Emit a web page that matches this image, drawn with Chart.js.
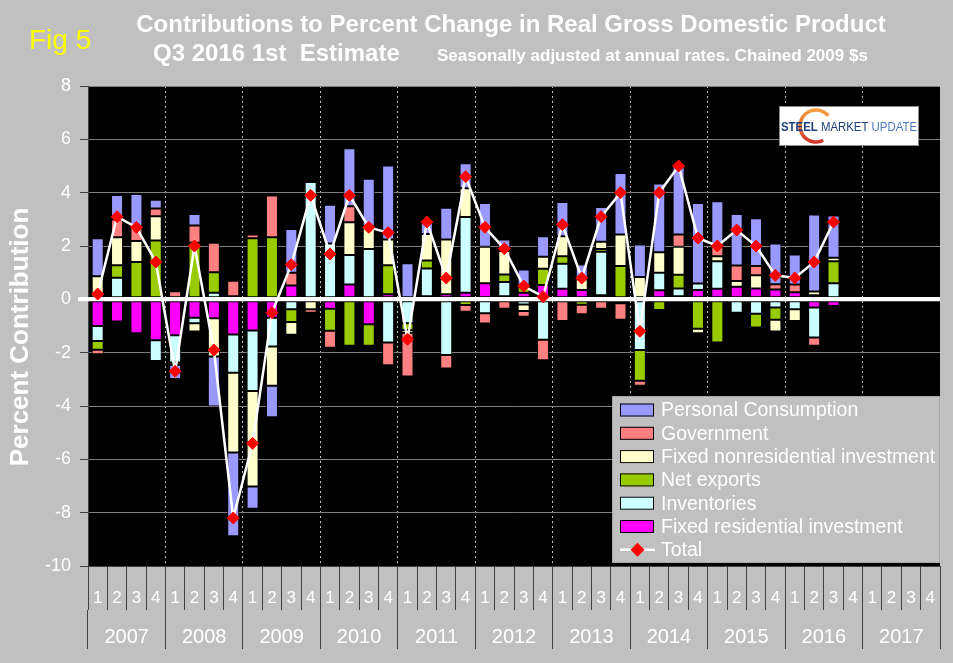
<!DOCTYPE html>
<html>
<head>
<meta charset="utf-8">
<title>Contributions to Percent Change in Real GDP</title>
<script src="https://cdn.jsdelivr.net/npm/chart.js@4.4.1/dist/chart.umd.min.js"></script>
<style>
  html, body { margin: 0; padding: 0; background: #c0c0c0; }
  #gdpChart { display: block; background: #c0c0c0; }
</style>
</head>
<body>
<canvas id="gdpChart" width="953" height="663"></canvas>
<script>
// ---- data ----
const quarters = [
  '1', '2', '3', '4', '1', '2', '3', '4', '1', '2', '3', '4',
  '1', '2', '3', '4', '1', '2', '3', '4', '1', '2', '3', '4',
  '1', '2', '3', '4', '1', '2', '3', '4', '1', '2', '3', '4',
  '1', '2', '3', '4', '1', '2', '3', '4'
];
const years = ['2007', '2008', '2009', '2010', '2011', '2012', '2013', '2014', '2015', '2016', '2017'];
const yTicks = [8, 6, 4, 2, 0, -2, -4, -6, -8, -10];

const personalConsumption = [1.42, 0.92, 1.21, 0.32, -0.54, 0.43, -1.88, -3.14, -0.83, -1.18, 1.64, 0, 1.46, 2.18, 1.78, 2.78, 1.35, 0.54, 1.19, 0.93, 1.64, 0.43, 0.65, 0.77, 1.28, 0.56, 1.30, 2.31, 1.22, 2.57, 2.62, 3.02, 1.72, 1.93, 1.79, 1.52, 1.12, 2.89, 1.58];
const government = [-0.17, 0.66, 0.55, 0.29, 0.30, 0.65, 1.10, 0.58, 0.14, 1.56, 0.48, -0.13, -0.64, 0.60, 0, -0.85, -1.64, -0.10, -0.50, -0.26, -0.39, -0.35, -0.21, -0.76, -0.81, -0.36, -0.35, -0.62, -0.19, 0, 0.46, 0, 0.34, 0.58, 0.35, 0.20, 0.29, -0.31, 0];
const fixedNonresidential = [0.87, 1.05, 0.79, 0.91, 0, -0.31, -1.43, -2.99, -3.58, -1.47, -0.48, -0.37, 0, 1.23, 0.85, 0.96, -0.10, 0.99, 2.05, 1.08, 1.37, 0.88, -0.25, 0.45, 0.75, 0.40, 0.27, 1.18, 0.84, 0.77, 1.05, -0.17, 0.19, 0.22, 0.49, -0.44, -0.44, 0.14, 0.13];
const netExports = [-0.33, 0.47, 1.40, 2.21, -0.08, 2.12, 0.77, 0.12, 2.29, 2.33, -0.48, 0, -0.83, -1.74, -0.81, 1.09, -0.25, 0.30, 0, -0.21, 0, 0.28, 0.22, 0.61, 0.29, -0.20, 0.11, 1.25, -1.15, -0.40, 0.51, -1.10, -1.62, -0.07, -0.52, -0.46, 0, 0.15, 0.83];
const inventories = [-0.56, 0.81, 0, -0.78, -1.02, -0.21, 0.25, -1.43, -2.27, -1.08, -0.37, 4.40, 2.09, 1.10, 1.89, -1.62, -0.90, 1.04, -2.09, 2.84, -0.52, 0.53, -0.19, -1.52, 0.93, 0, 1.63, 0, -1.90, 0.66, 0.29, 0.24, 1.03, -0.50, -0.54, -0.31, -0.37, -1.12, 0.60];
const fixedResidential = [-1.00, -0.83, -1.27, -1.53, -1.35, -0.69, -0.71, -1.32, -1.17, -0.69, 0.52, 0, -0.35, 0.56, -0.93, 0.19, 0, 0.12, 0.19, 0.25, 0.60, 0.12, 0.25, 0.54, 0.40, 0.35, 0.15, -0.15, 0, 0.34, 0.12, 0.35, 0.40, 0.47, 0.41, 0.37, 0.27, -0.31, -0.25];
const totalGdp = [0.2, 3.1, 2.7, 1.4, -2.7, 2.0, -1.9, -8.2, -5.4, -0.5, 1.3, 3.9, 1.7, 3.9, 2.7, 2.5, -1.5, 2.9, 0.8, 4.6, 2.7, 1.9, 0.5, 0.1, 2.8, 0.8, 3.1, 4.0, -1.2, 4.0, 5.0, 2.3, 2.0, 2.6, 2.0, 0.9, 0.8, 1.4, 2.9];

const chartTitle = 'Contributions to Percent Change in Real Gross Domestic Product';
const subTitle = 'Q3 2016 1st  Estimate';
const unitNote = 'Seasonally adjusted at annual rates. Chained 2009 $s';
const figLabel = 'Fig 5';
const yTitle = 'Percent Contribution';

const FONT = '"Liberation Sans", Arial, sans-serif';
Chart.defaults.font.family = FONT;
Chart.defaults.color = '#ffffff';

// ---- plugins ----
const plotBackground = {
  id: 'plotBackground',
  beforeDraw(chart) {
    const { ctx, chartArea: a } = chart;
    ctx.save();
    ctx.fillStyle = '#c0c0c0';
    ctx.fillRect(0, 0, chart.width, chart.height);
    ctx.fillStyle = '#000000';
    ctx.fillRect(a.left, a.top, a.right - a.left, a.bottom - a.top);
    ctx.restore();
  }
};

// zero axis line sits over the bars but under the total line
const zeroLine = {
  id: 'zeroLine',
  beforeDatasetDraw(chart, args) {
    if (args.meta.type !== 'line') return;
    const { ctx, chartArea: a } = chart;
    const y0 = chart.scales.y.getPixelForValue(0);
    ctx.save();
    ctx.strokeStyle = '#ffffff';
    ctx.lineWidth = 4;
    ctx.beginPath();
    ctx.moveTo(a.left - 10, y0);
    ctx.lineTo(a.right, y0);
    ctx.stroke();
    ctx.restore();
  }
};

const headerText = {
  id: 'headerText',
  afterDraw(chart) {
    const ctx = chart.ctx;
    ctx.save();
    ctx.textBaseline = 'alphabetic';
    ctx.fillStyle = '#ffffff';
    ctx.textAlign = 'center';
    ctx.font = 'bold 24px ' + FONT;
    ctx.fillText(chartTitle, 511, 32);
    ctx.textAlign = 'left';
    ctx.font = 'bold 24px ' + FONT;
    ctx.fillText(subTitle, 153, 61);
    ctx.font = 'bold 17px ' + FONT;
    ctx.fillText(unitNote, 437, 61);
    ctx.fillStyle = '#ffff00';
    ctx.font = '28px ' + FONT;
    ctx.fillText(figLabel, 29, 49);
    // rotated y axis title
    ctx.fillStyle = '#ffffff';
    ctx.font = 'bold 26px ' + FONT;
    ctx.translate(28, 337);
    ctx.rotate(-Math.PI / 2);
    ctx.textAlign = 'center';
    ctx.fillText(yTitle, 0, 0);
    ctx.restore();
  }
};

const logoBox = {
  id: 'logoBox',
  afterDraw(chart) {
    const ctx = chart.ctx;
    const x = 779, y = 106, w = 140, h = 40;
    ctx.save();
    ctx.fillStyle = '#ffffff';
    ctx.fillRect(x, y, w, h);
    ctx.strokeStyle = '#8c8c8c';
    ctx.lineWidth = 1;
    ctx.strokeRect(x + 0.5, y + 0.5, w - 1, h - 1);
    const grad = ctx.createLinearGradient(0, y + 2, 0, y + h - 2);
    grad.addColorStop(0, '#f7a541');
    grad.addColorStop(1, '#d2302a');
    ctx.strokeStyle = grad;
    ctx.lineWidth = 3.5;
    ctx.beginPath();
    ctx.arc(x + 37, y + 20, 16, -0.7, 1.1, true);
    ctx.stroke();
    const parts = [
      ['STEEL ', 'bold 12px ' + FONT, '#1d3f7a'],
      ['MARKET ', '12px ' + FONT, '#1d3f7a'],
      ['UPDATE', '12px ' + FONT, '#4d7cc0']
    ];
    let total = 0;
    parts.forEach(p => { ctx.font = p[1]; total += ctx.measureText(p[0]).width; });
    ctx.translate(x + 2, y + 25);
    ctx.scale(136 / total, 1);
    let tx = 0;
    ctx.textBaseline = 'alphabetic';
    parts.forEach(p => {
      ctx.font = p[1];
      ctx.fillStyle = p[2];
      ctx.fillText(p[0], tx, 0);
      tx += ctx.measureText(p[0]).width;
    });
    ctx.restore();
  }
};

const legendBox = {
  id: 'legendBox',
  afterDraw(chart) {
    const { ctx, chartArea: a } = chart;
    const w = 328, h = 167;
    const left = a.right - w, top = a.bottom - 170;
    ctx.save();
    ctx.fillStyle = '#c0c0c0';
    ctx.fillRect(left, top, w, h);
    ctx.strokeStyle = '#a8a8a8';
    ctx.lineWidth = 1;
    ctx.strokeRect(left + 0.5, top + 0.5, w - 1, h - 1);
    const order = [5, 4, 3, 2, 1, 0, 6];
    ctx.font = '19.5px ' + FONT;
    ctx.textBaseline = 'middle';
    ctx.textAlign = 'left';
    order.forEach((di, row) => {
      const ds = chart.data.datasets[di];
      const cy = top + 14 + row * 23.3;
      if (ds.type === 'line') {
        ctx.strokeStyle = '#ffffff';
        ctx.lineWidth = 2.5;
        ctx.beginPath();
        ctx.moveTo(left + 8, cy);
        ctx.lineTo(left + 43, cy);
        ctx.stroke();
        ctx.fillStyle = '#ff0000';
        ctx.beginPath();
        ctx.moveTo(left + 25.5, cy - 7);
        ctx.lineTo(left + 32.5, cy);
        ctx.lineTo(left + 25.5, cy + 7);
        ctx.lineTo(left + 18.5, cy);
        ctx.closePath();
        ctx.fill();
      } else {
        ctx.fillStyle = ds.backgroundColor;
        ctx.fillRect(left + 8, cy - 6.5, 34, 13);
        ctx.strokeStyle = '#000000';
        ctx.strokeRect(left + 8.5, cy - 6, 33, 12);
      }
      ctx.fillStyle = '#ffffff';
      ctx.fillText(ds.label, left + 49, cy + 1);
    });
    ctx.restore();
  }
};

function barSet(label, data, color) {
  return {
    type: 'bar',
    label: label,
    data: data,
    backgroundColor: color,
    borderColor: '#000000',
    borderWidth: 1,
    borderSkipped: false,
    categoryPercentage: 1.0,
    barPercentage: 0.62,
    order: 1
  };
}

const gdpCtx = document.getElementById('gdpChart').getContext('2d');
const gdpChart = new Chart(gdpCtx, {
  data: {
    labels: quarters,
    datasets: [
      barSet('Fixed residential investment', fixedResidential, '#ff00ff'),
      barSet('Inventories', inventories, '#ccffff'),
      barSet('Net exports', netExports, '#99cc00'),
      barSet('Fixed nonresidential investment', fixedNonresidential, '#ffffcc'),
      barSet('Government', government, '#ff8080'),
      barSet('Personal Consumption', personalConsumption, '#9999ff'),
      {
        type: 'line',
        label: 'Total',
        data: totalGdp,
        borderColor: '#ffffff',
        borderWidth: 2.5,
        pointStyle: 'rectRot',
        pointRadius: 6,
        pointBackgroundColor: '#ff0000',
        pointBorderColor: '#ff0000',
        pointBorderWidth: 1,
        tension: 0,
        order: 0
      }
    ]
  },
  options: {
    responsive: false,
    animation: false,
    events: [],
    layout: { padding: { top: 86, right: 13, left: 0, bottom: 0 } },
    plugins: {
      legend: { display: false },
      tooltip: { enabled: false }
    },
    scales: {
      x: {
        type: 'category',
        stacked: true,
        offset: true,
        position: 'bottom',
        weight: 0,
        afterFit(scale) { scale.height = 44; },
        grid: {
          offset: true,
          drawOnChartArea: false,
          drawTicks: true,
          tickLength: 44,
          color: '#404040',
          tickColor: '#404040'
        },
        border: { display: true, color: '#404040' },
        ticks: {
          color: '#ffffff',
          font: { size: 17 },
          padding: -22,
          autoSkip: false,
          maxRotation: 0
        }
      },
      years: {
        type: 'category',
        labels: years,
        offset: true,
        position: 'bottom',
        weight: 1,
        afterFit(scale) { scale.height = 53; },
        grid: {
          offset: true,
          drawOnChartArea: true,
          drawTicks: true,
          tickLength: 39,
          color: (c) => (c.index > 0 && c.index < years.length) ? 'rgba(255,255,255,0.75)' : 'rgba(0,0,0,0)',
          tickColor: '#404040',
          lineWidth: 1
        },
        border: { display: false, dash: [2, 3] },
        ticks: {
          color: '#ffffff',
          font: { size: 20 },
          padding: -24,
          autoSkip: false,
          maxRotation: 0
        }
      },
      y: {
        stacked: true,
        min: -10,
        max: 8,
        afterFit(scale) { scale.width = 88; },
        afterBuildTicks(scale) { scale.ticks = yTicks.map(v => ({ value: v })); },
        grid: {
          color: (c) => c.tick && c.tick.value === 0 ? '#ffffff' : '#7f7f7f',
          lineWidth: (c) => c.tick && c.tick.value === 0 ? 4 : 1,
          tickColor: (c) => c.tick && c.tick.value === 0 ? '#ffffff' : '#404040',
          tickWidth: (c) => c.tick && c.tick.value === 0 ? 4 : 1,
          tickLength: 8
        },
        border: { display: true, color: '#404040' },
        ticks: {
          color: '#ffffff',
          font: { size: 18 },
          padding: 9
        }
      }
    }
  },
  plugins: [plotBackground, zeroLine, headerText, logoBox, legendBox]
});
</script>
</body>
</html>
